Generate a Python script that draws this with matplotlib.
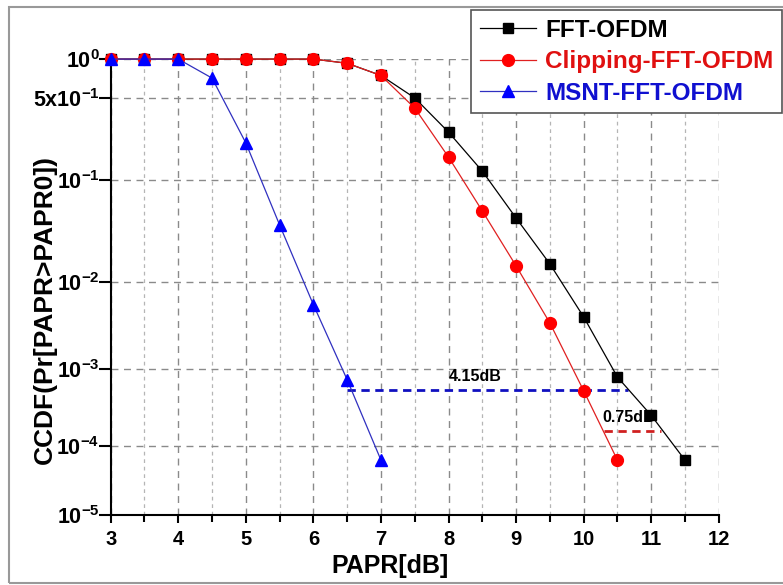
import numpy as np
import matplotlib
matplotlib.use('Agg')
import matplotlib.pyplot as plt
from matplotlib.ticker import FixedLocator, MultipleLocator, NullLocator
from matplotlib.patches import Rectangle

plt.rcParams['font.family'] = 'Liberation Sans'
plt.rcParams['font.weight'] = 'bold'
plt.rcParams['mathtext.fontset'] = 'custom'
plt.rcParams['mathtext.rm'] = 'Liberation Sans:bold'
plt.rcParams['mathtext.bf'] = 'Liberation Sans:bold'

# data
papr = [3, 3.5, 4, 4.5, 5, 5.5, 6, 6.5, 7, 7.5, 8, 8.5, 9, 9.5, 10, 10.5, 11, 11.5]
fft_ofdm = [1, 1, 1, 1, 1, 1, 1, 0.93, 0.75, 0.5, 0.262, 0.12, 0.044, 0.0153,
            0.0041, 8.0e-4, 2.6e-4, 6.4e-5]
papr_clip = [3, 3.5, 4, 4.5, 5, 5.5, 6, 6.5, 7, 7.5, 8, 8.5, 9, 9.5, 10, 10.5]
clip_ofdm = [1, 1, 1, 1, 1, 1, 1, 0.93, 0.75, 0.414, 0.16, 0.0514, 0.0146, 0.0035,
             5.4e-4, 6.4e-5]
papr_msnt = [3, 3.5, 4, 4.5, 5, 5.5, 6, 6.5, 7]
msnt_ofdm = [1, 1, 1, 0.716, 0.212, 0.0377, 0.0056, 7.4e-4, 6.4e-5]

yticks = [1e-5, 1e-4, 1e-3, 1e-2, 1e-1, 5e-1, 1]
ytick_labels = [r'$\mathbf{10^{-5}}$', r'$\mathbf{10^{-4}}$', r'$\mathbf{10^{-3}}$',
                r'$\mathbf{10^{-2}}$', r'$\mathbf{10^{-1}}$', r'$\mathbf{5x10^{-1}}$',
                r'$\mathbf{10^{0}}$']

# gain markers
gain_msnt = (6.5, 10.65, 5.5e-4)
gain_clip = (10.3, 11.15, 1.6e-4)


def fwd(p):
    p = np.clip(np.asarray(p, dtype=float), 1e-12, None)
    return -np.log(1 + (-np.log10(p)) / 4.8)


def inv(v):
    return 10 ** (-4.8 * (np.exp(-np.asarray(v, dtype=float)) - 1))


fig = plt.figure(figsize=(7.83, 5.85), dpi=100)
ax = fig.add_axes([0.1414, 0.1197, 0.918 - 0.1414, 0.899 - 0.1197])
ax.set_yscale('function', functions=(fwd, inv))

ax.plot(papr, fft_ofdm, color='black', lw=0.9, marker='s', ms=7.5, mfc='black',
        mec='black', label='FFT-OFDM', clip_on=False, zorder=4)
ax.plot(papr_clip, clip_ofdm, color='#e02020', lw=0.9, marker='o', ms=8.5, mfc='red',
        mec='red', label='Clipping-FFT-OFDM', clip_on=False, zorder=5)
ax.plot(papr_msnt, msnt_ofdm, color='#3030c0', lw=0.9, marker='^', ms=9, mfc='blue',
        mec='blue', label='MSNT-FFT-OFDM', clip_on=False, zorder=6)

ax.hlines(gain_msnt[2], gain_msnt[0], gain_msnt[1], colors='#1010c0', lw=2,
          linestyles=(0, (3, 2)), zorder=3)
ax.text(8.0, gain_msnt[2] * 1.2, '4.15dB', fontsize=11.5, fontweight='bold',
        va='bottom', ha='left')
ax.hlines(gain_clip[2], gain_clip[0], gain_clip[1], colors='#d02020', lw=2,
          linestyles=(0, (3, 2)), zorder=3)
ax.text(10.27, gain_clip[2] * 1.2, '0.75dB', fontsize=11.5, fontweight='bold',
        va='bottom', ha='left')

ax.set_xlim(3, 12)
ax.set_ylim(1e-5, 1)
ax.xaxis.set_major_locator(MultipleLocator(1))
ax.xaxis.set_minor_locator(MultipleLocator(0.5))
ax.yaxis.set_major_locator(FixedLocator(yticks))
ax.yaxis.set_minor_locator(NullLocator())
ax.set_yticklabels(ytick_labels)

ax.grid(which='major', axis='both', color='#8a8a8a', lw=1, ls=(0, (5, 4)))
ax.grid(which='minor', axis='x', color='#b5b5b5', lw=0.9, ls=(0, (3, 3)))
ax.set_axisbelow(True)

ax.spines['top'].set_visible(False)
ax.spines['right'].set_visible(False)
ax.spines['left'].set_linewidth(1.5)
ax.spines['bottom'].set_linewidth(1.5)
ax.tick_params(axis='x', which='major', direction='out', width=1.5, labelsize=14.5,
               length=6, pad=5)
ax.tick_params(axis='y', which='major', direction='out', width=1.5, labelsize=15.5,
               length=9, pad=-1)
ax.tick_params(axis='x', which='minor', length=5, width=1.5)

ax.set_xlabel('PAPR[dB]', fontsize=18, fontweight='bold')
ax.xaxis.set_label_coords(0.459, -0.085)
ax.set_ylabel('CCDF(Pr[PAPR>PAPR0])', fontsize=19, fontweight='bold', va='center')
ax.yaxis.set_label_coords(-0.108, 0.45)

leg = fig.legend(loc='upper right', bbox_to_anchor=(782 / 783, 1 - 10 / 585),
                 borderaxespad=0, fancybox=False, edgecolor='#555555', framealpha=1,
                 prop={'size': 17.5, 'weight': 'bold'}, handlelength=2.3,
                 handletextpad=0.4, labelspacing=0.35, borderpad=0.35)
leg.get_frame().set_linewidth(1.2)
for txt, col in zip(leg.get_texts(), ['black', '#e01010', '#1010d0']):
    txt.set_color(col)

fig.patches.append(Rectangle((9 / 783, 2 / 585), 1, 1 - 9 / 585, transform=fig.transFigure,
                             fill=False, edgecolor='#999999', lw=1.5))

fig.savefig('out.png', dpi=100)
